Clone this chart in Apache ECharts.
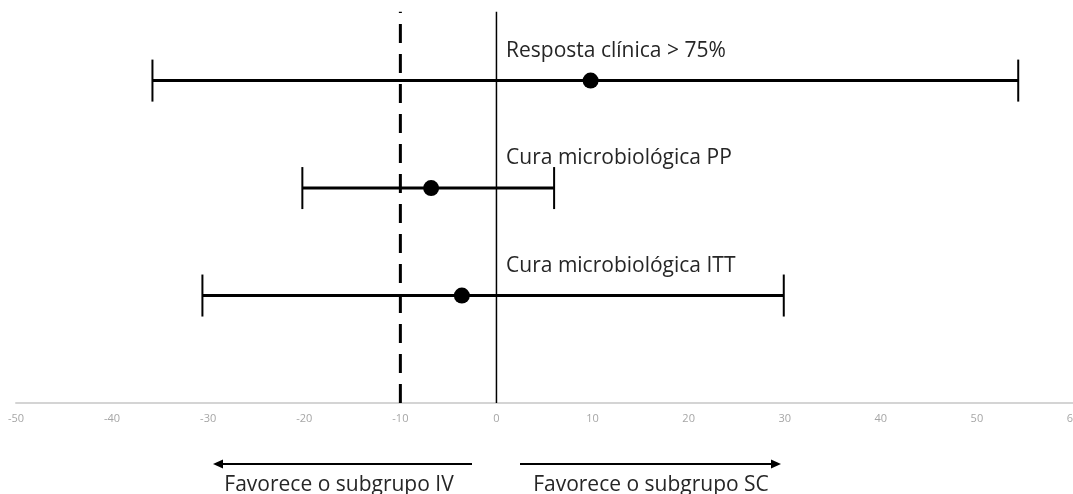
<!DOCTYPE html>
<html>
<head>
<meta charset="utf-8">
<script src="https://cdn.jsdelivr.net/npm/echarts@6/dist/echarts.min.js"></script>
<style>
    html, body { margin: 0; padding: 0; background: #fff; }
    #chart { width: 1073px; height: 494px; }
</style>
</head>
<body>
<div id="chart"></div>
<script>
// dados (diferença em pontos percentuais)
var rotulos = ['Resposta clínica > 75%', 'Cura microbiológica PP', 'Cura microbiológica ITT'];
var linhas = [3, 2, 1];
var estimativas = [9.8, -6.8, -3.6];
var limInf = [-35.8, -20.2, -30.6];
var limSup = [54.3, 6.0, 29.9];
var xTicks = [-50, 60, 10];
var linhaRef = -10;   // margem de não inferioridade
var fonte = '"Open Sans", "Noto Sans", sans-serif';

var dados = [];
for (var i = 0; i < rotulos.length; i++) {
    dados.push([limInf[i], limSup[i], linhas[i], estimativas[i], rotulos[i]]);
}

var myChart = echarts.init(document.getElementById('chart'));

function desenhaBarra(params, api) {
    var a = api.coord([api.value(0), api.value(2)]);
    var b = api.coord([api.value(1), api.value(2)]);
    var p = api.coord([api.value(3), api.value(2)]);
    var t = api.coord([1.0, api.value(2)]);
    var cap = 21;
    return {
        type: 'group',
        children: [
            {type: 'line', shape: {x1: a[0], y1: a[1], x2: b[0], y2: b[1]}, style: {stroke: '#000', lineWidth: 3}},
            {type: 'line', shape: {x1: a[0], y1: a[1] - cap, x2: a[0], y2: a[1] + cap}, style: {stroke: '#000', lineWidth: 2}},
            {type: 'line', shape: {x1: b[0], y1: b[1] - cap, x2: b[0], y2: b[1] + cap}, style: {stroke: '#000', lineWidth: 2}},
            {type: 'circle', shape: {cx: p[0], cy: p[1], r: 8}, style: {fill: '#000'}},
            {type: 'text', x: t[0], y: t[1] - 30, style: {
                text: api.value(4), fill: '#262626', font: '21px ' + fonte,
                textAlign: 'left', textVerticalAlign: 'middle'
            }}
        ]
    };
}

var option = {
    animation: false,
    grid: {left: 16, right: 0, top: 0, bottom: 91, outerBoundsMode: 'none'},
    xAxis: {
        type: 'value', min: xTicks[0], max: xTicks[1], interval: xTicks[2],
        splitLine: {show: false},
        axisTick: {show: false},
        axisLine: {show: true, onZero: false, lineStyle: {color: '#d4d4d4', width: 2}},
        axisLabel: {color: '#a6a6a6', fontSize: 11, fontFamily: fonte, margin: 10, showMaxLabel: true}
    },
    yAxis: {
        type: 'value', min: 0, max: 3.75, show: false
    },
    series: [
        {
            type: 'line', data: [[0, 0], [0, 3.64]], symbol: 'none',
            lineStyle: {color: '#000', width: 1.5}, silent: true
        },
        {
            type: 'line', data: [[linhaRef, 0], [linhaRef, 3.64]], symbol: 'none',
            lineStyle: {color: '#000', width: 3, type: [19, 11]}, silent: true
        },
        {
            type: 'custom', renderItem: desenhaBarra, data: dados,
            encode: {x: [0, 1, 3], y: 2}, clip: false
        }
    ],
    graphic: [
        {type: 'line', shape: {x1: 472, y1: 464, x2: 220, y2: 464}, style: {stroke: '#000', lineWidth: 2}},
        {type: 'polygon', shape: {points: [[213, 464], [223, 459.5], [223, 468.5]]}, style: {fill: '#000'}},
        {type: 'line', shape: {x1: 520, y1: 464, x2: 774, y2: 464}, style: {stroke: '#000', lineWidth: 2}},
        {type: 'polygon', shape: {points: [[781, 464], [771, 459.5], [771, 468.5]]}, style: {fill: '#000'}},
        {type: 'text', x: 339, y: 485, style: {text: 'Favorece o subgrupo IV', fill: '#262626', font: '21px ' + fonte, textAlign: 'center', textVerticalAlign: 'middle'}},
        {type: 'text', x: 651, y: 485, style: {text: 'Favorece o subgrupo SC', fill: '#262626', font: '21px ' + fonte, textAlign: 'center', textVerticalAlign: 'middle'}}
    ]
};
myChart.setOption(option);
</script>
</body>
</html>
